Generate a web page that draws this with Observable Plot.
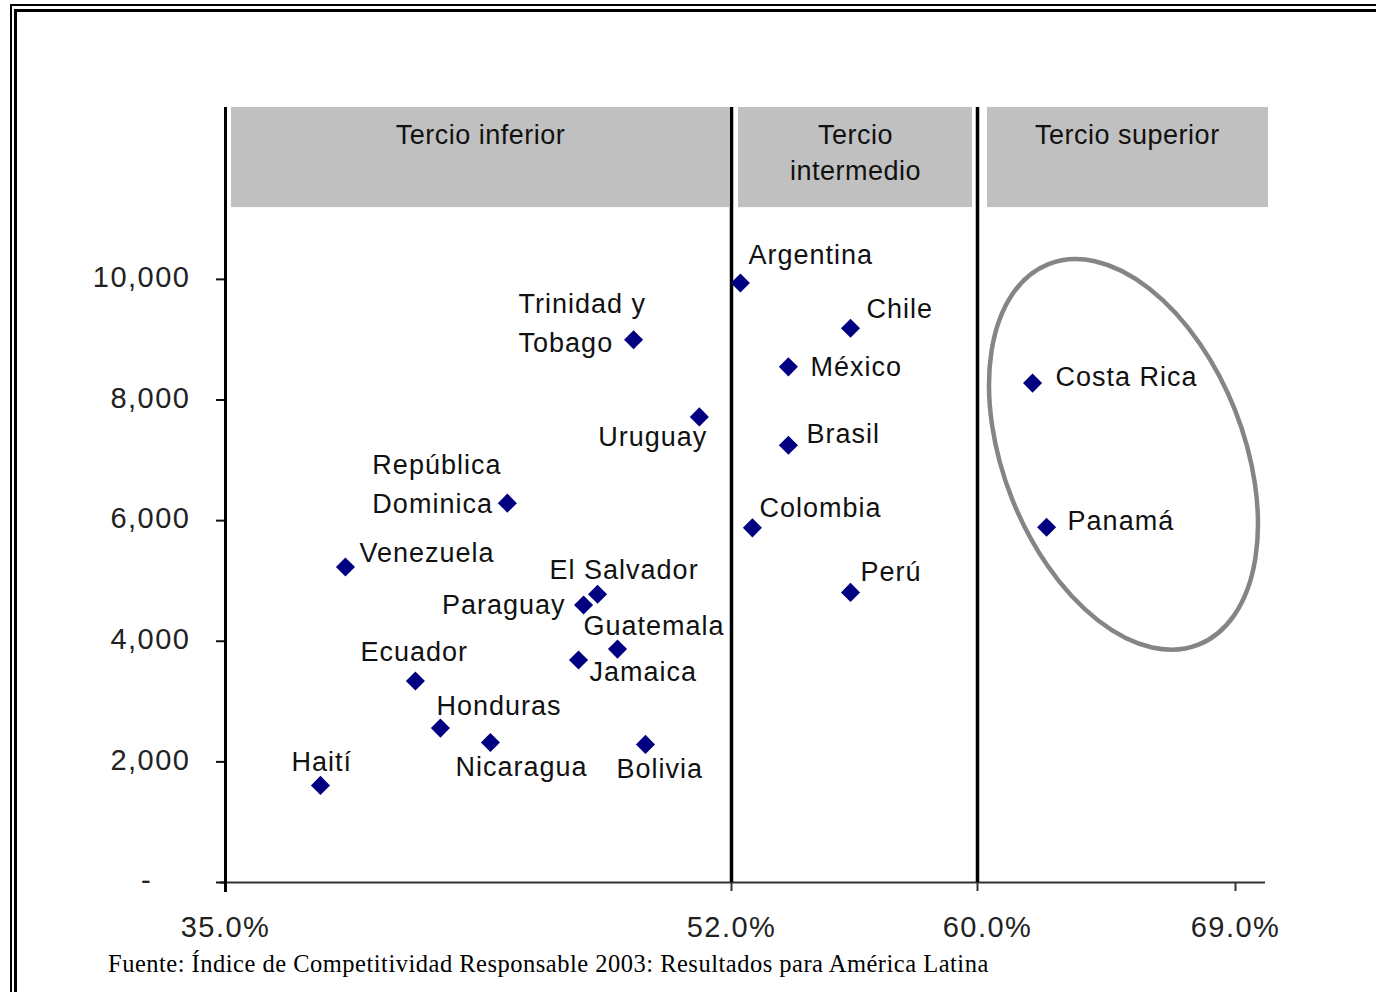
<!DOCTYPE html>
<html><head><meta charset="utf-8">
<script src="https://cdn.jsdelivr.net/npm/d3@7"></script>
<script src="https://cdn.jsdelivr.net/npm/@observablehq/plot@0.6"></script>
<style>
html,body{margin:0;padding:0;background:#fff;overflow:hidden;}
#page{position:relative;width:1376px;height:992px;overflow:hidden;}
.f1{position:absolute;left:10px;top:4px;width:1500px;height:1200px;border-left:2px solid #000;border-top:2px solid #000;z-index:2;}
.f2{position:absolute;left:14px;top:9px;width:1500px;height:1200px;border-left:3px solid #000;border-top:3px solid #000;z-index:2;}
#chart{position:absolute;left:0;top:0;z-index:1;}
#caption{position:absolute;left:108px;top:952px;font-family:"Liberation Serif","Times New Roman",serif;font-size:24.5px;letter-spacing:0.5px;line-height:1;color:#000;white-space:nowrap;z-index:3;}
#chart g[aria-label="text"] text{letter-spacing:1px;}
#chart g[aria-label="y-axis tick label"] text,#chart g[aria-label="x-axis tick label"] text{letter-spacing:1.5px;}
#chart g.hdr text{letter-spacing:0.5px;}
</style></head>
<body><div id="page"><div class="f1"></div><div class="f2"></div><div id="chart"></div><div id="caption">Fuente: Índice de Competitividad Responsable 2003: Resultados para América Latina</div></div>
<script>
// ---- data ----
const countries = ["Argentina","Trinidad y\nTobago","Chile","México","Costa Rica","Uruguay","Brasil","República\nDominica","Colombia","Panamá","Venezuela","El Salvador","Paraguay","Perú","Guatemala","Jamaica","Ecuador","Honduras","Nicaragua","Bolivia","Haití"];
const competitividad = [52.29,48.71,55.87,53.85,61.92,50.92,53.85,44.47,52.68,62.41,39.03,47.50,47.03,55.87,48.17,46.86,41.38,42.22,43.90,49.11,38.19];
const ingreso = [9940,9000,9190,8550,8280,7720,7250,6290,5880,5890,5230,4780,4600,4810,3870,3690,3340,2560,2320,2290,1610];
const xTicks = [35,52,60,69];
const yTicks = [0,2000,4000,6000,8000,10000];
const tercios = ["Tercio inferior","Tercio\nintermedio","Tercio superior"];
const tercioStart = [35,52,60];
const tercioEnd = [52,60,70];

// ---- layout (label placement, annotation) ----
const labelPlace = [[8,-29,"start"],[-115,-17,"start"],[16,-20,"start"],[22,0,"start"],[23,-7,"start"],[8,20,"end"],[18,-12,"start"],[-135,-19,"start"],[7,-20,"start"],[21,-7,"start"],[14,-15,"start"],[-48,-25,"start"],[-18,-1,"end"],[10,-21,"start"],[-34,-24,"start"],[11,12,"start"],[-55,-30,"start"],[-4,-23,"start"],[-35,24,"start"],[-29,24,"start"],[-29,-24,"start"]];
const labelShift = -3;
const tickLabelShift = {60:10};
const boxInsets = [[6,2],[7,5],[10,-3]];
const yTop = 12850, boxBottom = 11190;
const ellipse = {cx:65.11, cy:7090, rx:120, ry:204.5, angle:-21.5};

const idx = d3.range(countries.length);
const nbsp = "\u00a0";
const xFmt = d => d.toFixed(1) + "%";
const yFmt = d => d === 0 ? "-" + nbsp.repeat(4) : d3.format(",")(d);

const marks = [];
tercios.forEach((t,i)=>{
  marks.push(Plot.rect([i],{x1:d=>tercioStart[d],x2:d=>tercioEnd[d],y1:boxBottom,y2:yTop,fill:"#c0c0c0",insetLeft:boxInsets[i][0],insetRight:boxInsets[i][1]}));
  marks.push(Plot.text([i],{x:d=>(tercioStart[d]+tercioEnd[d])/2,y:yTop,text:d=>tercios[d],dx:(boxInsets[i][0]-boxInsets[i][1])/2,dy:11,lineAnchor:"top",lineHeight:1.33,fontSize:27,fill:"#111",className:"hdr"}));
});
marks.push(Plot.ruleY([0],{x1:35,x2:70,insetLeft:-5,stroke:"#333",strokeWidth:2}));
// tick marks
marks.push(Plot.axisX({ticks:xTicks,tickSize:9,tickFormat:()=>"",stroke:"#333",strokeWidth:2}));
marks.push(Plot.axisY({ticks:yTicks,tickSize:9,tickFormat:()=>"",stroke:"#111",strokeWidth:2}));
// tick labels
xTicks.forEach(t=>{
  marks.push(Plot.axisX({ticks:[t],tickSize:0,tickPadding:34,tickFormat:xFmt,fontSize:29,fill:"#222",dx:tickLabelShift[t]||0}));
});
marks.push(Plot.axisY({ticks:yTicks,tickSize:0,tickPadding:35,tickFormat:yFmt,fontSize:29,fill:"#222",dy:-1.5}));
marks.push(Plot.ruleX([35],{y1:yTop,y2:0,stroke:"#000",strokeWidth:3,insetBottom:-10}));
marks.push(Plot.ruleX([52,60],{y1:0,y2:yTop,stroke:"#000",strokeWidth:3.5}));
marks.push((index, scales, values, dimensions, context) => {
  const cx = scales.x(ellipse.cx), cy = scales.y(ellipse.cy);
  const el = document.createElementNS("http://www.w3.org/2000/svg","ellipse");
  el.setAttribute("cx",cx); el.setAttribute("cy",cy);
  el.setAttribute("rx",ellipse.rx); el.setAttribute("ry",ellipse.ry);
  el.setAttribute("transform",`rotate(${ellipse.angle} ${cx} ${cy})`);
  el.setAttribute("fill","none"); el.setAttribute("stroke","#858585"); el.setAttribute("stroke-width","4.5");
  return el;
});
marks.push(Plot.dot(idx,{x:i=>competitividad[i],y:i=>ingreso[i],symbol:"diamond2",r:8.6,fill:"#000080",stroke:"none"}));
idx.forEach(i=>{
  const [dx,dy,anchor] = labelPlace[i];
  marks.push(Plot.text([i],{x:d=>competitividad[d],y:d=>ingreso[d],text:d=>countries[d],dx,dy:dy+labelShift,textAnchor:anchor,lineAnchor:"middle",lineHeight:1.45,fontSize:27,fill:"#111"}));
});

const chart = Plot.plot({
  width:1376, height:945,
  marginLeft:225, marginRight:111, marginTop:107, marginBottom:63,
  style:{fontFamily:"'Liberation Sans', Arial, sans-serif", background:"none", color:"#222"},
  x:{type:"linear", domain:[35,52,60,69,70], range:[225,731,977,1235,1265]},
  y:{domain:[0,yTop]},
  marks
});
document.getElementById("chart").appendChild(chart);
</script>
</body></html>
